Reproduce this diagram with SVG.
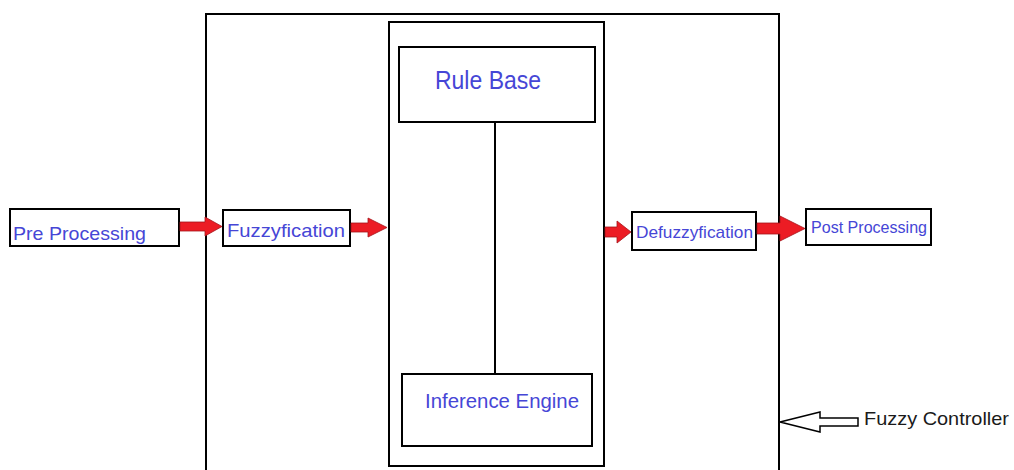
<svg xmlns="http://www.w3.org/2000/svg" width="1014" height="470" viewBox="0 0 1014 470">
<style>
.box{fill:#fff;stroke:#000;stroke-width:2}
.frame{fill:none;stroke:#000;stroke-width:2}
.lbl{font-family:"Liberation Sans",Arial,sans-serif;fill:#4646d6}
.red{fill:#ec1c24;stroke:#a5141a;stroke-width:0.8}
.dark{font-family:"Liberation Sans",Arial,sans-serif;fill:#1a1a1a}
</style>
<rect width="1014" height="470" fill="#fff"/>
<g id="fuzzy-controller">
<rect class="frame" x="206" y="14" width="573" height="470"/>
</g>
<g id="inner-block">
<rect class="frame" x="389" y="22" width="215" height="444"/>
</g>
<g id="rule-base">
<rect class="box" x="399" y="47" width="196" height="75"/>
<text class="lbl" x="435" y="89" font-size="25" textLength="106" lengthAdjust="spacingAndGlyphs">Rule Base</text>
</g>
<g id="inference-engine">
<rect class="box" x="402" y="374" width="190" height="72"/>
<text class="lbl" x="425" y="408" font-size="20" textLength="154" lengthAdjust="spacingAndGlyphs">Inference Engine</text>
</g>
<g id="pre-processing">
<rect class="box" x="10" y="209" width="169" height="37"/>
<text class="lbl" x="13" y="240" font-size="19" textLength="133" lengthAdjust="spacingAndGlyphs">Pre Processing</text>
</g>
<g id="fuzzyfication">
<rect class="box" x="223" y="210" width="127" height="36"/>
<text class="lbl" x="227" y="237" font-size="19" textLength="118" lengthAdjust="spacingAndGlyphs">Fuzzyfication</text>
</g>
<g id="defuzzyfication">
<rect class="box" x="632" y="212" width="124" height="38"/>
<text class="lbl" x="636" y="238" font-size="17" textLength="117" lengthAdjust="spacingAndGlyphs">Defuzzyfication</text>
</g>
<g id="post-processing">
<rect class="box" x="806" y="209" width="125" height="36"/>
<text class="lbl" x="811" y="233" font-size="17" textLength="116" lengthAdjust="spacingAndGlyphs">Post Processing</text>
</g>
<g id="fuzzy-controller-label">
<text class="dark" x="864" y="425" font-size="19" textLength="145" lengthAdjust="spacingAndGlyphs">Fuzzy Controller</text>
</g>
<g id="connectors">
<line x1="495" y1="122" x2="495" y2="374" stroke="#000" stroke-width="2"/>
<polygon class="red" points="180,222 205,222 205,217 222,226.5 205,236 205,231 180,231"/>
<polygon class="red" points="351,223 368,223 368,218 387,227.5 368,237 368,232 351,232"/>
<polygon class="red" points="605,227 617,227 617,221 631,232 617,243 617,237 605,237"/>
<polygon class="red" points="757,223 780,223 780,216 805,228.5 780,241 780,234 757,234"/>
<polygon points="780,422 820,412 820,418 858,418 858,426 820,426 820,432" fill="#fff" stroke="#000" stroke-width="1.5"/>
</g>
</svg>
